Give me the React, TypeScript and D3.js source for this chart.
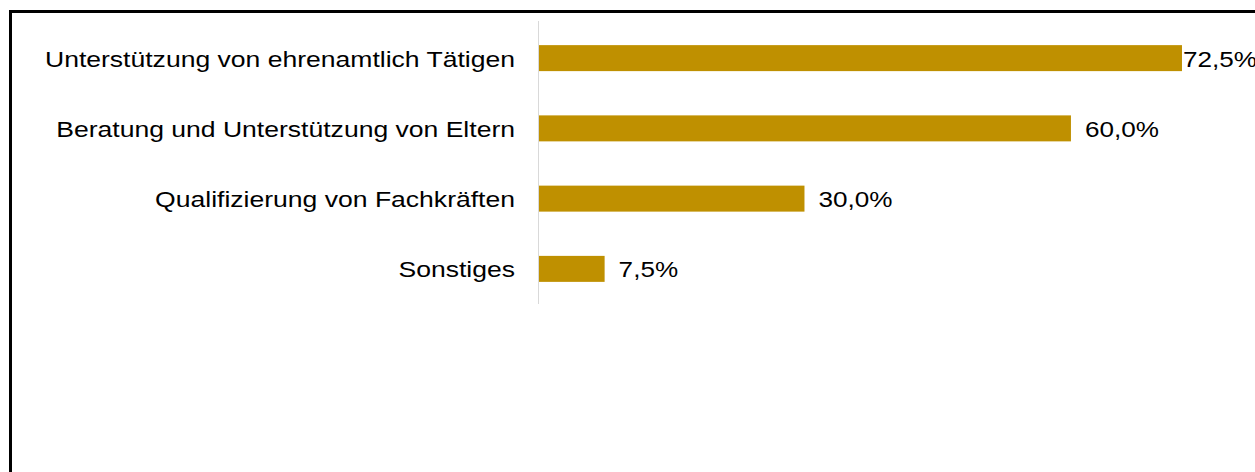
import { useRef, useEffect } from "react";
import * as d3 from "d3";

const categories = [
  "Unterstützung von ehrenamtlich Tätigen",
  "Beratung und Unterstützung von Eltern",
  "Qualifizierung von Fachkräften",
  "Sonstiges",
];
const values = [72.5, 60.0, 30.0, 7.5];
const axisMax = 80;

const fmt = (v: number) => v.toFixed(1).replace(".", ",") + "%";

const App = () => {
  const svgRef = useRef<SVGSVGElement>(null);

  useEffect(() => {
    const width = 1255;
    const height = 472;
    const svg = d3.select(svgRef.current);
    svg.selectAll("*").remove();

    const x = d3.scaleLinear().domain([0, axisMax]).range([538, 1248.6]);
    const y = d3
      .scaleBand<string>()
      .domain(categories)
      .range([23, 304])
      .paddingInner(0.63)
      .paddingOuter(0.315);

    // frame (cut off on the right and bottom)
    svg
      .append("rect")
      .attr("x", 10.5)
      .attr("y", 11.5)
      .attr("width", width + 20)
      .attr("height", height + 20)
      .attr("fill", "#fff")
      .attr("stroke", "#000")
      .attr("stroke-width", 3);

    const rows = categories.map((c, i) => ({ name: c, value: values[i] }));

    svg
      .append("g")
      .selectAll("rect")
      .data(rows)
      .join("rect")
      .attr("x", x(0))
      .attr("y", (d) => y(d.name)!)
      .attr("width", (d) => x(d.value) - x(0))
      .attr("height", y.bandwidth())
      .attr("fill", "#BF9000");

    // category axis line
    svg
      .append("line")
      .attr("x1", x(0) + 0.5)
      .attr("x2", x(0) + 0.5)
      .attr("y1", 21)
      .attr("y2", 304)
      .attr("stroke", "#d9d9d9")
      .attr("stroke-width", 1);

    const textStyle = (sel: any) =>
      sel
        .attr("font-family", "'Liberation Sans', Arial, sans-serif")
        .attr("font-size", 22.5)
        .attr("fill", "#000");

    // category labels
    svg
      .append("g")
      .selectAll("text")
      .data(rows)
      .join("text")
      .attr(
        "transform",
        (d) => `translate(515, ${y(d.name)! + y.bandwidth() / 2 + 8.5}) scale(1.18,1)`
      )
      .attr("text-anchor", "end")
      .call(textStyle)
      .text((d) => d.name);

    // value labels (the first one sits at the plot's right edge, as in the original)
    const plotRight = 1183;
    svg
      .append("g")
      .selectAll("text")
      .data(rows)
      .join("text")
      .attr(
        "transform",
        (d) =>
          `translate(${Math.min(x(d.value) + 14, plotRight)}, ${
            y(d.name)! + y.bandwidth() / 2 + 8.5
          }) scale(1.16,1)`
      )
      .call(textStyle)
      .text((d) => fmt(d.value));
  }, []);

  return (
    <svg
      ref={svgRef}
      width={1255}
      height={472}
      style={{ position: "absolute", left: 0, top: 0, background: "#fff" }}
    ></svg>
  );
};

export default App;
